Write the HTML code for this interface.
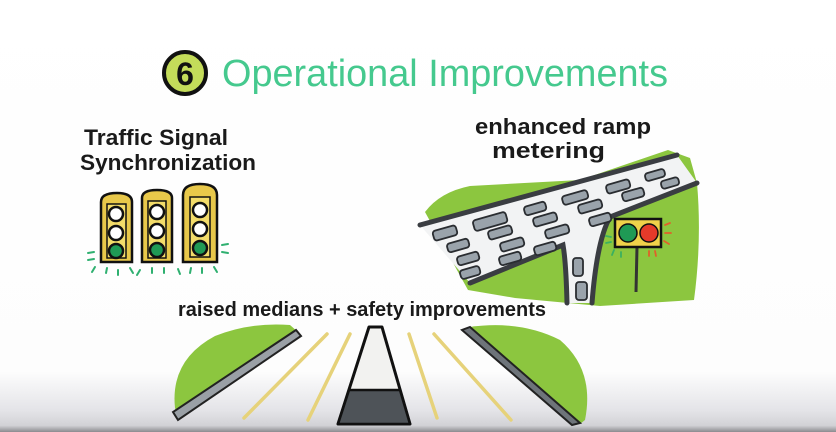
<!DOCTYPE html>
<html><head><meta charset="utf-8"><style>
html,body{margin:0;padding:0;width:836px;height:432px;overflow:hidden;background:#fff}
svg{display:block}
.h{font-family:"Liberation Sans",sans-serif;fill:#1a1a1a;font-weight:bold}
</style></head><body>
<svg width="836" height="432" viewBox="0 0 836 432" xmlns="http://www.w3.org/2000/svg">
<defs>
<linearGradient id="bg" x1="0" y1="0" x2="0" y2="1">
<stop offset="0" stop-color="#ffffff"/><stop offset="0.86" stop-color="#fdfdfd"/><stop offset="0.95" stop-color="#e4e4e8"/><stop offset="0.985" stop-color="#d2d2d6"/><stop offset="1" stop-color="#8a8a8e"/>
</linearGradient>
</defs>
<rect width="836" height="432" fill="url(#bg)"/>

<!-- Title -->
<circle cx="185" cy="73" r="21" fill="#c4dc5a" stroke="#111" stroke-width="4"/>
<text x="185" y="85" text-anchor="middle" font-family="Liberation Sans,sans-serif" font-weight="bold" font-size="32" fill="#111">6</text>
<text x="222" y="86" font-family="Liberation Sans,sans-serif" font-size="38" fill="#45c98e" textLength="446" lengthAdjust="spacingAndGlyphs">Operational Improvements</text>

<!-- Traffic signal text -->
<text class="h" x="84" y="145" font-size="22" textLength="144" lengthAdjust="spacingAndGlyphs">Traffic Signal</text>
<text class="h" x="80" y="170" font-size="22" textLength="176" lengthAdjust="spacingAndGlyphs">Synchronization</text>

<!-- signals -->
<g stroke="#111" stroke-width="2.5">
<path d="M101 262 V202 Q101 193 117 193 Q132 193 132 202 V262 Z" fill="#e8c84a"/>
<rect x="107" y="204" width="19" height="54" fill="#f3dc6a" stroke-width="1.5"/>
<circle cx="116" cy="214" r="7" fill="#fff"/><circle cx="116" cy="233" r="7" fill="#fff"/><circle cx="116" cy="251" r="7" fill="#1f9a55"/>
<path d="M142 262 V198 Q142 190 157 190 Q172 190 172 198 V262 Z" fill="#e8c84a"/>
<rect x="148" y="201" width="18" height="57" fill="#f3dc6a" stroke-width="1.5"/>
<circle cx="157" cy="212" r="7" fill="#fff"/><circle cx="157" cy="231" r="7" fill="#fff"/><circle cx="157" cy="250" r="7" fill="#1f9a55"/>
<path d="M183 262 V195 Q183 184 200 184 Q217 184 217 195 V262 Z" fill="#e8c84a"/>
<rect x="190" y="197" width="20" height="60" fill="#f3dc6a" stroke-width="1.5"/>
<circle cx="200" cy="210" r="7" fill="#fff"/><circle cx="200" cy="229" r="7" fill="#fff"/><circle cx="200" cy="248" r="7" fill="#1f9a55"/>
</g>
<g stroke="#2fb070" stroke-width="2" stroke-linecap="round">
<line x1="88" y1="253" x2="94" y2="252"/><line x1="88" y1="260" x2="94" y2="259"/>
<line x1="92" y1="272" x2="95" y2="267"/><line x1="106" y1="273" x2="107" y2="268"/><line x1="118" y1="275" x2="118" y2="270"/>
<line x1="130" y1="268" x2="133" y2="273"/><line x1="140" y1="270" x2="137" y2="275"/><line x1="152" y1="273" x2="152" y2="268"/>
<line x1="164" y1="273" x2="164" y2="268"/><line x1="178" y1="269" x2="180" y2="274"/><line x1="190" y1="273" x2="191" y2="268"/>
<line x1="202" y1="268" x2="202" y2="273"/><line x1="214" y1="267" x2="217" y2="272"/>
<line x1="222" y1="245" x2="228" y2="244"/><line x1="222" y1="252" x2="228" y2="253"/>
</g>

<!-- ramp metering text -->
<text class="h" x="475" y="134" font-size="22" textLength="176" lengthAdjust="spacingAndGlyphs">enhanced ramp</text>
<text class="h" x="492" y="158" font-size="22" textLength="113" lengthAdjust="spacingAndGlyphs">metering</text>

<!-- highway grass: one big shape -->
<path d="M425 212 Q440 192 470 186 L580 180 L668 150 L690 158 L697 183 Q702 240 694 300 L600 306 L515 298 L468 290 Z" fill="#8cc63f"/>
<!-- road -->
<path d="M420 225 L677 155 L697 183 L610 217 Q597 240 592 303 L567 303 Q566 262 563 245 L470 283 Z" fill="#f2f3f4"/>
<g fill="none" stroke="#3a3d42" stroke-width="5" stroke-linecap="round">
<path d="M420 225 L677 155"/>
<path d="M470 283 L563 245 Q566 262 567 303"/>
<path d="M697 183 L610 217 Q597 240 592 303"/>
</g>
<g stroke="#2a2d31" stroke-width="1.8" fill="#9aa3ab">
<rect x="-12" y="-5" width="24" height="10" rx="3" transform="translate(445 233) rotate(-16)"/>
<rect x="-17" y="-5" width="34" height="11" rx="3" transform="translate(490 221) rotate(-16)"/>
<rect x="-11" y="-4" width="22" height="9" rx="3" transform="translate(535 208) rotate(-16)"/>
<rect x="-13" y="-4" width="26" height="9" rx="3" transform="translate(575 197) rotate(-16)"/>
<rect x="-12" y="-4" width="24" height="9" rx="3" transform="translate(618 186) rotate(-16)"/>
<rect x="-10" y="-4" width="20" height="8" rx="3" transform="translate(655 175) rotate(-16)"/>
<rect x="-11" y="-4" width="22" height="9" rx="3" transform="translate(458 245) rotate(-16)"/>
<rect x="-12" y="-4" width="24" height="9" rx="3" transform="translate(500 232) rotate(-16)"/>
<rect x="-12" y="-4" width="24" height="9" rx="3" transform="translate(545 219) rotate(-16)"/>
<rect x="-12" y="-4" width="24" height="9" rx="3" transform="translate(590 206) rotate(-16)"/>
<rect x="-11" y="-4" width="22" height="9" rx="3" transform="translate(633 194) rotate(-16)"/>
<rect x="-9" y="-4" width="18" height="8" rx="3" transform="translate(670 183) rotate(-16)"/>
<rect x="-11" y="-4" width="22" height="9" rx="3" transform="translate(468 258) rotate(-16)"/>
<rect x="-12" y="-4" width="24" height="9" rx="3" transform="translate(512 244) rotate(-16)"/>
<rect x="-12" y="-4" width="24" height="9" rx="3" transform="translate(557 231) rotate(-16)"/>
<rect x="-11" y="-4" width="22" height="9" rx="3" transform="translate(600 219) rotate(-16)"/>
<rect x="-10" y="-4" width="20" height="9" rx="3" transform="translate(470 272) rotate(-16)"/>
<rect x="-11" y="-4" width="22" height="9" rx="3" transform="translate(510 258) rotate(-16)"/>
<rect x="-11" y="-4" width="22" height="9" rx="3" transform="translate(545 248) rotate(-16)"/>
<rect x="573" y="258" width="10" height="18" rx="3"/>
<rect x="576" y="282" width="11" height="18" rx="3"/>
</g>
<!-- ramp signal -->
<line x1="637" y1="247" x2="636" y2="292" stroke="#333" stroke-width="3"/>
<rect x="615" y="219" width="46" height="28" fill="#f0d24a" stroke="#111" stroke-width="2.5"/>
<circle cx="628" cy="233" r="9" fill="#1f9a55" stroke="#111" stroke-width="1.5"/>
<circle cx="649" cy="233" r="9" fill="#e53a2a" stroke="#111" stroke-width="1.5"/>
<g stroke-width="1.8" stroke-linecap="round">
<g stroke="#3bb060"><line x1="606" y1="236" x2="611" y2="237"/><line x1="606" y1="243" x2="611" y2="242"/><line x1="614" y1="250" x2="612" y2="255"/><line x1="621" y1="252" x2="621" y2="257"/></g>
<g stroke="#e0602a"><line x1="665" y1="225" x2="670" y2="223"/><line x1="665" y1="233" x2="671" y2="233"/><line x1="664" y1="241" x2="669" y2="244"/><line x1="655" y1="251" x2="656" y2="256"/><line x1="649" y1="251" x2="649" y2="256"/></g>
</g>

<!-- bottom label -->
<text class="h" x="178" y="316" font-size="20" textLength="368" lengthAdjust="spacingAndGlyphs">raised medians + safety improvements</text>

<!-- bottom road -->
<path d="M175 408 Q170 360 215 336 Q250 322 290 325 L298 332 L178 418 Z" fill="#8cc63f"/>
<path d="M470 327 Q520 320 560 340 Q595 370 585 420 L580 424 Z" fill="#8cc63f"/>
<path d="M296 330 L173 412 L178 420 L301 336 Z" fill="#9aa0a6" stroke="#222" stroke-width="2"/>
<path d="M462 330 L572 425 L580 423 L470 327 Z" fill="#6e747a" stroke="#222" stroke-width="2"/>
<g stroke="#e6d27a" stroke-width="3.5" stroke-linecap="round">
<line x1="327" y1="334" x2="244" y2="418"/>
<line x1="350" y1="334" x2="308" y2="420"/>
<line x1="409" y1="334" x2="437" y2="418"/>
<line x1="434" y1="334" x2="511" y2="420"/>
</g>
<path d="M369 327 L382 327 L410 424 L338 424 Z" fill="#f2f2f0" stroke="#111" stroke-width="3" stroke-linejoin="round"/>
<path d="M349 390 L400 390 L410 424 L338 424 Z" fill="#4e5358" stroke="#111" stroke-width="2.5" stroke-linejoin="round"/>
</svg>
</body></html>
